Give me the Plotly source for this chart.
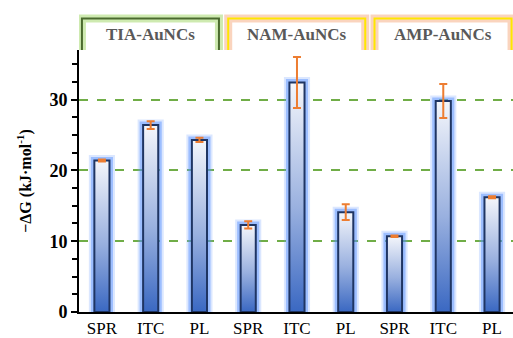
import plotly.graph_objects as go

# ---- data ----
categories = ["SPR", "ITC", "PL", "SPR", "ITC", "PL", "SPR", "ITC", "PL"]
values = [21.4, 26.4, 24.3, 12.3, 32.4, 14.1, 10.7, 29.8, 16.2]
errors = [0.15, 0.55, 0.3, 0.5, 3.6, 1.1, 0.1, 2.4, 0.15]
groups = ["TIA-AuNCs", "NAM-AuNCs", "AMP-AuNCs"]
y_title = "−ΔG (kJ·mol<sup>-1</sup>)"

FONT = "Liberation Serif, Times New Roman, serif"
W, H = 513, 338
ML, MR, MT, MB = 79, 0, 50, 26
BAR_W = 0.31
xs = list(range(len(categories)))

fig = go.Figure()

def rect_path(x, v):
    x0, x1 = x - BAR_W / 2, x + BAR_W / 2
    return [x0, x0, x1, x1, x0], [0, v, v, 0, 0]

# glow (soft layers)
gx, gy = [], []
for x, v in zip(xs, values):
    px, py = rect_path(x, v)
    gx += px + [None]
    gy += py + [None]
for wdt, col in [(11, "rgba(110,160,255,0.25)"), (7, "rgba(80,140,255,0.45)")]:
    fig.add_trace(go.Scatter(x=gx, y=gy, mode="lines",
                             line=dict(color=col, width=wdt),
                             hoverinfo="skip", showlegend=False))

# gradient fills per bar
for x, v in zip(xs, values):
    px, py = rect_path(x, v)
    fig.add_trace(go.Scatter(
        x=px, y=py, mode="lines", fill="toself",
        line=dict(width=0, color="rgba(0,0,0,0)"),
        fillgradient=dict(type="vertical",
                          colorscale=[[0, "#3A68C2"], [0.45, "#99B0DF"], [1, "#F4F6FB"]]),
        hoverinfo="skip", showlegend=False))

# outlines
fig.add_trace(go.Scatter(x=gx, y=gy, mode="lines",
                         line=dict(color="#1F3563", width=2),
                         hoverinfo="skip", showlegend=False))

# error bars
fig.add_trace(go.Scatter(
    x=xs, y=values, mode="markers",
    marker=dict(size=1, color="rgba(0,0,0,0)"),
    error_y=dict(type="data", array=errors, color="#ED7D31", thickness=2, width=4),
    hoverinfo="skip", showlegend=False))

# group header boxes
plot_h = H - MT - MB
y_top = 1 + (MT - 18.5) / plot_h
y_txt = 1 + (MT - 34.5) / plot_h
styles = [
    ("rgba(146,208,80,0.45)", "#4A6A2E"),
    ("rgba(244,160,110,0.45)", "#FFE600"),
    ("rgba(244,160,110,0.45)", "#FFE600"),
]
shapes = []
annotations = []
for g, name in enumerate(groups):
    c = 3 * g + 1
    x0, x1 = c - 1.41, c + 1.40
    path = f"M {x0},1 L {x0},{y_top} L {x1},{y_top} L {x1},1"
    glow, edge = styles[g]
    shapes.append(dict(type="path", path=path, xref="x", yref="paper",
                       line=dict(color=glow, width=8), layer="above"))
    shapes.append(dict(type="path", path=path, xref="x", yref="paper",
                       line=dict(color=edge, width=2), layer="above"))
    annotations.append(dict(x=c, y=y_txt, xref="x", yref="paper", text=name,
                            showarrow=False, xanchor="center", yanchor="middle",
                            font=dict(family=FONT, size=17, color="#595959", weight="bold")))

fig.update_layout(
    width=W, height=H,
    margin=dict(l=ML, r=MR, t=MT, b=MB),
    paper_bgcolor="white", plot_bgcolor="white",
    shapes=shapes, annotations=annotations,
    xaxis=dict(range=[-0.47, 8.43], tickmode="array", tickvals=xs, ticktext=categories,
               showline=True, linecolor="black", linewidth=2, ticks="",
               showgrid=False, zeroline=False,
               tickfont=dict(family=FONT, size=17, color="black")),
    yaxis=dict(range=[0, 37], tickmode="linear", tick0=0, dtick=10,
               showline=True, linecolor="black", linewidth=2,
               ticks="outside", ticklen=6, tickwidth=1.5, tickcolor="black",
               minor=dict(dtick=2.5, ticks="outside", ticklen=5, tickwidth=1.5,
                          tickcolor="black", showgrid=False),
               showgrid=True, gridcolor="#70AD47", griddash="dash", gridwidth=1.5,
               zeroline=False,
               tickfont=dict(family=FONT, size=18, color="black", weight="bold"),
               title=dict(text=y_title, standoff=14,
                          font=dict(family=FONT, size=16, color="black", weight="bold"))),
)

fig.write_html("out.html", config={"displayModeBar": False},
               post_script="document.body.style.margin='0';document.body.style.overflow='hidden';")
